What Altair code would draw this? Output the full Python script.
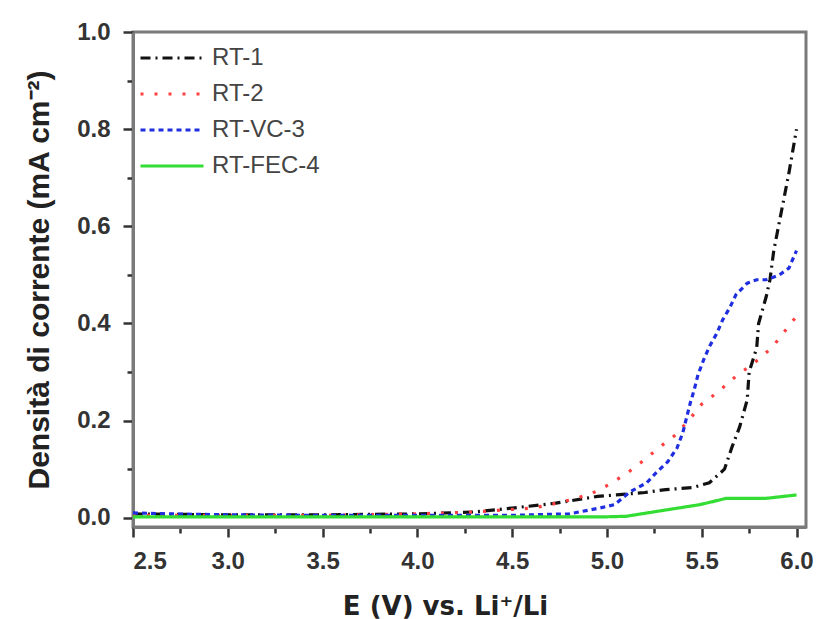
import altair as alt
import pandas as pd

series_names = ["RT-1", "RT-2", "RT-VC-3", "RT-FEC-4"]
colors = ["#111111", "#ff4040", "#1f2fe0", "#33dd33"]
dashes = [[10, 5, 2, 5], [3, 11], [5, 4], [1, 0]]

rt1_x = [2.5, 3.0, 3.5, 4.0, 4.3, 4.5, 4.73, 4.95, 5.05, 5.2, 5.31, 5.45, 5.54, 5.62, 5.66,
         5.70, 5.74, 5.75, 5.79, 5.80, 5.84, 5.86, 5.88, 5.92, 5.96, 6.0]
rt1_y = [0.008, 0.006, 0.006, 0.008, 0.012, 0.02, 0.03, 0.044, 0.047, 0.052, 0.058, 0.062, 0.072,
         0.10, 0.146, 0.187, 0.243, 0.30, 0.35, 0.40, 0.455, 0.49, 0.55, 0.63, 0.71, 0.80]

rt2_x = [2.5, 3.0, 3.5, 4.0, 4.3, 4.61, 4.70, 4.82, 4.92, 5.01, 5.11, 5.19, 5.28, 5.36, 5.43,
         5.50, 5.59, 5.66, 5.78, 5.87, 5.93, 6.0]
rt2_y = [0.005, 0.005, 0.005, 0.008, 0.012, 0.02, 0.027, 0.038, 0.05, 0.068, 0.093, 0.117, 0.146,
         0.17, 0.20, 0.234, 0.26, 0.285, 0.32, 0.35, 0.38, 0.415]

vc3_x = [2.5, 2.7, 3.0, 3.5, 4.0, 4.5, 4.8, 4.96, 5.04, 5.12, 5.21, 5.26, 5.32, 5.37, 5.40, 5.42,
         5.44, 5.46, 5.48, 5.51, 5.54, 5.58, 5.61, 5.65, 5.68, 5.74, 5.79, 5.84, 5.91, 5.96, 6.0]
vc3_y = [0.01, 0.008, 0.006, 0.005, 0.005, 0.005, 0.008, 0.02, 0.027, 0.053, 0.072, 0.093, 0.115,
         0.144, 0.175, 0.206, 0.237, 0.263, 0.294, 0.325, 0.352, 0.38, 0.407, 0.434, 0.459, 0.483,
         0.49, 0.49, 0.50, 0.514, 0.55]

fec4_x = [2.5, 3.0, 3.5, 4.0, 4.5, 5.0, 5.10, 5.31, 5.49, 5.63, 5.84, 6.0]
fec4_y = [0.002, 0.002, 0.002, 0.002, 0.002, 0.002, 0.003, 0.016, 0.027, 0.04, 0.04, 0.047]

x_ticks = [2.5, 2.75, 3.0, 3.25, 3.5, 3.75, 4.0, 4.25, 4.5, 4.75, 5.0, 5.25, 5.5, 5.75, 6.0]
y_ticks = [0.0, 0.1, 0.2, 0.3, 0.4, 0.5, 0.6, 0.7, 0.8, 0.9, 1.0]

rows = []
for name, xs, ys in [("RT-1", rt1_x, rt1_y), ("RT-2", rt2_x, rt2_y),
                     ("RT-VC-3", vc3_x, vc3_y), ("RT-FEC-4", fec4_x, fec4_y)]:
    for i, (a, b) in enumerate(zip(xs, ys)):
        rows.append({"series": name, "E": a, "J": b, "order": i})
df = pd.DataFrame(rows)

FONT = "Liberation Sans"
x_major_test = "abs(datum.value*2 - round(datum.value*2)) < 0.001"
y_major_test = "abs(datum.value*5 - round(datum.value*5)) < 0.001"

xscale = alt.Scale(domain=[2.5, 6.05], nice=False, zero=False)
yscale = alt.Scale(domain=[-0.019, 1.0], nice=False, zero=False)

legend = alt.Legend(title=None, orient="none", legendX=6, legendY=14,
                    symbolType="M-3,0H3", symbolSize=441, symbolOffset=21,
                    symbolStrokeWidth=3, symbolFillColor="transparent",
                    labelFont=FONT, labelFontSize=24, labelColor="#444",
                    labelOffset=28, rowPadding=12)

chart = alt.Chart(df).mark_line(strokeCap="butt", strokeWidth=3.2).encode(
    x=alt.X("E:Q", scale=xscale,
            axis=alt.Axis(values=x_ticks, format=".1f",
                          labelExpr=f"({x_major_test}) ? datum.label : ''",
                          title="E (V) vs. Li⁺/Li", titleX=312, titleAlign="center",
                          orient="bottom", tickOpacity=1,
                          tickSize={"condition": {"test": x_major_test, "value": 10}, "value": 6},
                          tickWidth=2.5, tickColor="#333",
                          domainColor="#7a7a7a", domainWidth=3, labelPadding=12,
                          labelFontSize=24, labelFontWeight="bold", labelColor="#333",
                          labelFont=FONT, titleFont="DejaVu Sans", titleFontSize=26,
                          titleFontWeight="bold", titleColor="#222", titlePadding=20,
                          gridOpacity=0)),
    y=alt.Y("J:Q", scale=yscale,
            axis=alt.Axis(values=y_ticks, format=".1f",
                          labelExpr=f"({y_major_test}) ? datum.label : ''",
                          title="Densità di corrente  (mA cm⁻²)",
                          orient="left", tickOpacity=1,
                          tickSize={"condition": {"test": y_major_test, "value": 10}, "value": 6},
                          tickWidth=2.5, tickColor="#333",
                          domainColor="#7a7a7a", domainWidth=3, labelPadding=13,
                          labelFontSize=24, labelFontWeight="bold", labelColor="#333",
                          labelFont=FONT, titleFont=FONT, titleFontSize=30,
                          titleFontWeight="bold", titleColor="#222", titlePadding=22,
                          gridOpacity=0)),
    color=alt.Color("series:N", scale=alt.Scale(domain=series_names, range=colors),
                    sort=series_names, legend=legend),
    strokeDash=alt.StrokeDash("series:N", scale=alt.Scale(domain=series_names, range=dashes),
                              sort=series_names, legend=legend),
    order="order:Q",
).properties(
    width=673, height=495,
    autosize=alt.AutoSizeParams(type="none"),
    padding={"left": 133, "top": 32, "right": 11, "bottom": 92},
    background="white",
).configure_view(stroke="#7a7a7a", strokeWidth=3)

chart.save("out.html", embed_options={"renderer": "svg", "actions": False})
